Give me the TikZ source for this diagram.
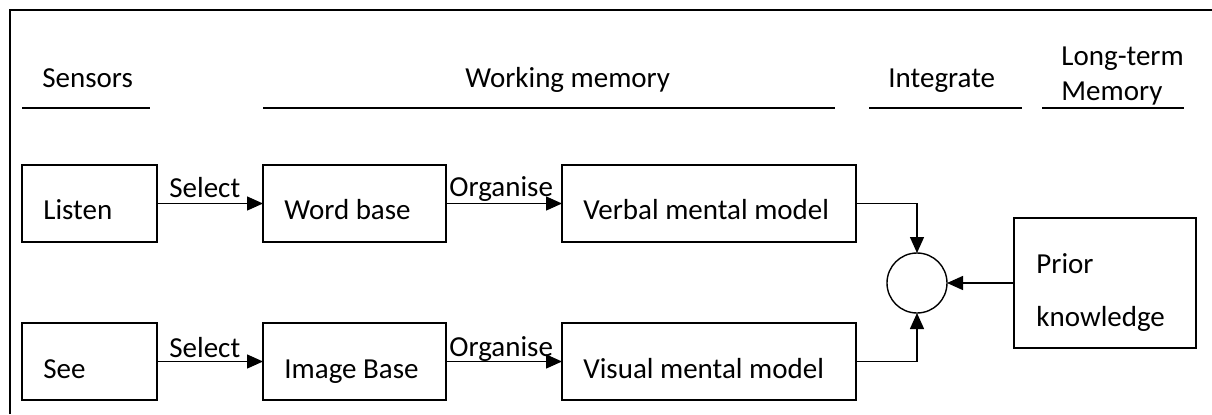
\documentclass[tikz,border=0pt]{standalone}
\usepackage{fontspec}
\setmainfont{Carlito}
\usetikzlibrary{arrows.meta}
\begin{document}
\begin{tikzpicture}[x=0.5pt,y=-0.5pt,
  every node/.style={font=\fontsize{14.5}{17}\selectfont},
  box/.style={draw, line width=0.7pt, inner sep=0pt, outer sep=0pt, minimum height=38.5pt},
  txt/.style={anchor=base west, inner sep=0pt},
  lbl/.style={anchor=base west, inner sep=0pt},
  conn/.style={line width=0.7pt, -{Triangle[length=8pt,width=7pt]}},
  rule/.style={line width=0.7pt}]
\useasboundingbox (0,0) rectangle (1212,414);
% frame
\draw[line width=0.7pt] (10,414) -- (10,10) -- (1212,10);
% headers
\node[txt] (hsens) at (42,87) {Sensors};
\node[txt] (hwm) at (465,87) {Working memory};
\node[txt] (hint) at (888,87) {Integrate};
\node[txt] (hlt1) at (1061,65) {Long-term};
\node[txt] (hlt2) at (1061,100) {Memory};
\draw[rule] (22,108) -- (150,108);
\draw[rule] (263,108) -- (835,108);
\draw[rule] (869,108) -- (1022,108);
\draw[rule] (1042,108) -- (1184,108);
% boxes
\node[box, minimum width=67.5pt] (listen) at (89.5,203.5) {};
\node[box, minimum width=91.5pt] (word) at (354.5,203.5) {};
\node[box, minimum width=147pt] (verbal) at (709,203.5) {};
\node[box, minimum width=67.5pt] (see) at (89.5,361.5) {};
\node[box, minimum width=91.5pt] (image) at (354.5,361.5) {};
\node[box, minimum width=147pt] (visual) at (709,361.5) {};
\node[box, minimum width=91pt, minimum height=65pt] (prior) at (1105,283) {};
\node[draw, circle, line width=0.7pt, minimum size=30pt, inner sep=0pt, outer sep=0pt] (circ) at (917,283) {};
% box texts
\node[txt] (tlisten) at (43,219) {Listen};
\node[txt] (tword) at (284,219) {Word base};
\node[txt] (tverbal) at (583,219) {Verbal mental model};
\node[txt] (tsee) at (43,378) {See};
\node[txt] (timage) at (284,378) {Image Base};
\node[txt] (tvisual) at (583,378) {Visual mental model};
\node[txt] (tprior1) at (1036,273) {Prior};
\node[txt] (tprior2) at (1036,326) {knowledge};
% connectors
\draw[conn] (listen.east) -- (word.west);
\draw[conn] (word.east) -- (verbal.west);
\draw[conn] (see.east) -- (image.west);
\draw[conn] (image.east) -- (visual.west);
\draw[conn] (verbal.east) -| (circ.north);
\draw[conn] (visual.east) -| (circ.south);
\draw[conn] (prior.west) -- (circ.east);
% connector labels
\node[lbl] (sel1) at (169,197) {Select};
\node[lbl] (org1) at (449,196) {Organise};
\node[lbl] (sel2) at (169,357) {Select};
\node[lbl] (org2) at (449,356) {Organise};
\end{tikzpicture}
\end{document}
